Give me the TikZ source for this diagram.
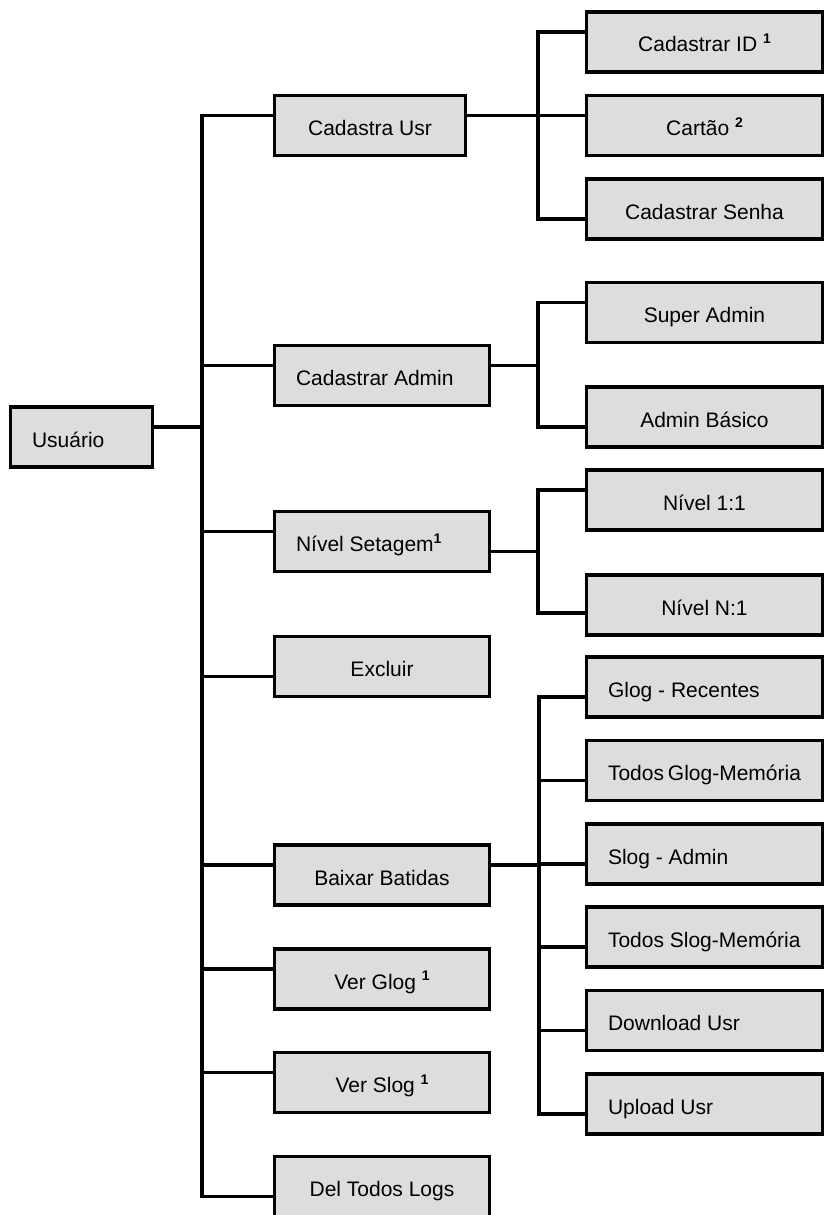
\documentclass[tikz,border=0pt]{standalone}
\usepackage{fontspec}
\setmainfont{Liberation Sans}
\usetikzlibrary{calc}
\definecolor{boxgray}{HTML}{DDDDDD}
\newcommand\supx[1]{\raisebox{8.5pt}{\fontsize{14}{14}\selectfont\bfseries #1}}
\begin{document}
\begin{tikzpicture}[x=1pt,y=-1pt,
  box/.style={draw=black, line width=3.5pt, fill=boxgray, inner xsep=0pt, inner ysep=0pt,
    minimum height=60pt, text height=24pt, text depth=4pt, font=\fontsize{21}{25}\selectfont},
  cbox/.style={box, minimum width=#1},
  lbox/.style={box, minimum width=#1,
    execute at begin node={\hbox to \dimexpr#1-43pt\relax\bgroup},
    execute at end node={\hfil\egroup}},
  conn/.style={line width=3.2pt, line join=miter}
]
\path[use as bounding box] (0,0) rectangle (824,1215);
\clip (0,0) rectangle (824,1215);

% root
\node[lbox=142pt] (u) at (81.5,437) {Usuário};

% middle column
\node[cbox=191pt] (cu) at (370,125.5) {Cadastra Usr};
\node[lbox=215pt] (ca) at (382,375.5) {Cadastrar Admin};
\node[lbox=215pt] (ns) at (382,541.5) {Nível Setagem\supx{1}};
\node[cbox=215pt] (ex) at (382,666.5) {Excluir};
\node[cbox=215pt] (bb) at (382,875) {Baixar Batidas};
\node[cbox=215pt] (vg) at (382,979) {Ver Glog \supx{1}};
\node[cbox=215pt] (vs) at (382,1082.5) {Ver Slog \supx{1}};
\node[cbox=215pt] (dl) at (382,1186.5) {Del Todos Logs};

% right column
\node[cbox=236pt] (cid) at (704.5,42) {Cadastrar ID \supx{1}};
\node[cbox=236pt] (ct) at (704.5,125.5) {Cartão \supx{2}};
\node[cbox=236pt] (cs) at (704.5,209) {Cadastrar Senha};
\node[cbox=236pt] (sa) at (704.5,312.5) {Super Admin};
\node[cbox=236pt] (ab) at (704.5,417) {Admin Básico};
\node[cbox=236pt] (n11) at (704.5,500) {Nível 1:1};
\node[cbox=236pt] (nn1) at (704.5,605) {Nível N:1};
\node[lbox=236pt] (gr) at (704.5,687) {Glog - Recentes};
\node[lbox=236pt] (tg) at (704.5,770.5) {Todos Glog-Memória};
\node[lbox=236pt] (sl) at (704.5,854) {Slog - Admin};
\node[lbox=236pt] (ts) at (704.5,937) {Todos Slog-Memória};
\node[lbox=236pt] (du) at (704.5,1020.5) {Download Usr};
\node[lbox=236pt] (up) at (704.5,1104) {Upload Usr};

% trunk and branch x positions
\coordinate (trunk) at (202,0);
\coordinate (s1) at (538,0);
\coordinate (s2) at (538,0);
\coordinate (s3) at (538,0);
\coordinate (s4) at (539,0);

% connection points
\coordinate (u-o) at ([yshift=10pt]u.east);
\coordinate (cu-i) at ([yshift=10pt]cu.west);
\coordinate (ca-i) at ([yshift=10pt]ca.west);
\coordinate (ns-i) at ([yshift=10pt]ns.west);
\coordinate (ex-i) at ([yshift=-10pt]ex.west);
\coordinate (bb-i) at ([yshift=10pt]bb.west);
\coordinate (vg-i) at ([yshift=10pt]vg.west);
\coordinate (vs-i) at ([yshift=10pt]vs.west);
\coordinate (dl-i) at ([yshift=-10pt]dl.west);

\coordinate (cu-o) at ([yshift=10pt]cu.east);
\coordinate (ca-o) at ([yshift=10pt]ca.east);
\coordinate (ns-o) at ([yshift=-10pt]ns.east);
\coordinate (bb-o) at ([yshift=10pt]bb.east);

\coordinate (cid-i) at ([yshift=10pt]cid.west);
\coordinate (ct-i) at ([yshift=10pt]ct.west);
\coordinate (cs-i) at ([yshift=-10pt]cs.west);
\coordinate (sa-i) at ([yshift=10pt]sa.west);
\coordinate (ab-i) at ([yshift=-10pt]ab.west);
\coordinate (n11-i) at ([yshift=10pt]n11.west);
\coordinate (nn1-i) at ([yshift=-8pt]nn1.west);
\coordinate (gr-i) at ([yshift=-10pt]gr.west);
\coordinate (tg-i) at ([yshift=-10pt]tg.west);
\coordinate (sl-i) at ([yshift=-10pt]sl.west);
\coordinate (ts-i) at ([yshift=-10pt]ts.west);
\coordinate (du-i) at ([yshift=-10pt]du.west);
\coordinate (up-i) at ([yshift=-10pt]up.west);

% root to trunk
\draw[conn] (u-o) -- (trunk |- u-o);
% trunk
\draw[conn] (cu-i) -- (trunk |- cu-i) -- (trunk |- dl-i) -- (dl-i);
\foreach \n in {ca,ns,ex,bb,vg,vs}{
  \draw[conn] (trunk |- \n-i) -- (\n-i);
}

% group 1
\draw[conn] (cu-o) -- (ct-i);
\draw[conn] (cid-i) -- (s1 |- cid-i) -- (s1 |- cs-i) -- (cs-i);

% group 2
\draw[conn] (ca-o) -- (s2 |- ca-o);
\draw[conn] (sa-i) -- (s2 |- sa-i) -- (s2 |- ab-i) -- (ab-i);

% group 3
\draw[conn] (ns-o) -- (s3 |- ns-o);
\draw[conn] (n11-i) -- (s3 |- n11-i) -- (s3 |- nn1-i) -- (nn1-i);

% group 4
\draw[conn] (bb-o) -- (s4 |- bb-o);
\draw[conn] (gr-i) -- (s4 |- gr-i) -- (s4 |- up-i) -- (up-i);
\foreach \n in {tg,sl,ts,du}{
  \draw[conn] (s4 |- \n-i) -- (\n-i);
}
\end{tikzpicture}
\end{document}
